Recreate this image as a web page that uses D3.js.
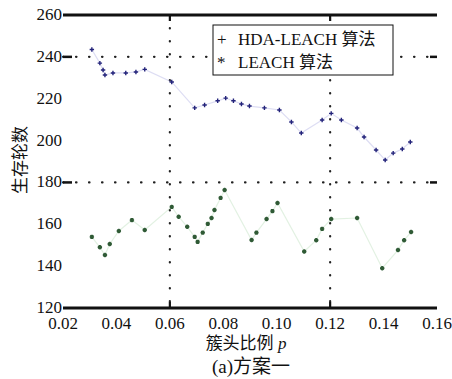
<!DOCTYPE html>
<html>
<head>
<meta charset="utf-8">
<script src="https://cdn.jsdelivr.net/npm/d3@7"></script>
<style>
  body { margin: 0; background: #fff; }
  svg { display: block; }
  text { font-family: "Liberation Serif", "Noto Sans CJK SC", serif; fill: #111; }
</style>
</head>
<body>
<script>
const width = 452,
    height = 379;

// HDA-LEACH (blue, upper curve)
const hdaP = [0.0308, 0.0338, 0.035, 0.0357, 0.0387, 0.0435, 0.0473, 0.0506, 0.0607, 0.0693, 0.073, 0.0779, 0.0809, 0.0838, 0.0868, 0.0898, 0.0954, 0.101, 0.1055, 0.1092, 0.117, 0.1204, 0.1242, 0.1301, 0.1327, 0.1372, 0.1406, 0.1436, 0.147, 0.15];
const hdaV = [243.5, 237, 233.7, 231.3, 232.3, 232.3, 232.8, 234, 228, 215.6, 217, 219, 220.3, 219, 217.5, 216.5, 215.6, 214.6, 208.9, 203.6, 209.8, 213, 209.8, 206, 201.7, 195.5, 190.7, 194, 196, 199.3];

// LEACH (green, lower curve)
const leachP = [0.0308, 0.0338, 0.0357, 0.0375, 0.0409, 0.0458, 0.0506, 0.0607, 0.0633, 0.0665, 0.0693, 0.0704, 0.0723, 0.0742, 0.0756, 0.0767, 0.079, 0.0805, 0.0906, 0.0924, 0.0962, 0.0984, 0.1003, 0.1103, 0.1148, 0.117, 0.1204, 0.1301, 0.1395, 0.1454, 0.1477, 0.1503];
const leachV = [154, 149, 145.3, 150.6, 156.8, 162, 157.3, 168.3, 163.6, 158.8, 154, 151.6, 156, 160.2, 163, 166.8, 172.6, 176.4, 152.5, 156, 162.5, 166.3, 170.2, 147, 152.4, 157.8, 162.5, 163, 139, 147.7, 152.4, 156.3];

const xTicks = [0.02, 0.04, 0.06, 0.08, 0.10, 0.12, 0.14, 0.16];
const yTicks = [120, 140, 160, 180, 200, 220, 240, 260];
const xGrid = [0.06, 0.12];
const yGrid = [180, 240];
const legendMarks = ["+", "*"];
const legendLabels = ["HDA-LEACH 算法", "LEACH 算法"];

const margin = {left: 63, right: 15, top: 15, bottom: 71};

const svg = d3.select("body").append("svg")
    .attr("width", width)
    .attr("height", height);

const x = d3.scaleLinear().domain([0.02, 0.16]).range([margin.left, width - margin.right]);
const y = d3.scaleLinear().domain([120, 260]).range([height - margin.bottom, margin.top]);

// dotted grid lines
const grid = svg.append("g");
grid.selectAll(".gx").data(xGrid).enter().append("line")
    .attr("x1", d => x(d)).attr("x2", d => x(d))
    .attr("y1", y(260)).attr("y2", y(120))
    .style("stroke", "#222").style("stroke-width", 2.2)
    .style("stroke-linecap", "round")
    .style("stroke-dasharray", "0.5,12.5");
grid.selectAll(".gy").data(yGrid).enter().append("line")
    .attr("x1", x(0.02)).attr("x2", x(0.16))
    .attr("y1", d => y(d)).attr("y2", d => y(d))
    .style("stroke", "#222").style("stroke-width", 2.2)
    .style("stroke-linecap", "round")
    .style("stroke-dasharray", "0.5,12.5");

// thick tick stubs at the ends of the grid lines
yGrid.forEach(function(v) {
  [[x(0.02), x(0.02) + 9], [x(0.16) - 7, x(0.16)]].forEach(function(s) {
    grid.append("line")
        .attr("x1", s[0]).attr("x2", s[1])
        .attr("y1", y(v)).attr("y2", y(v))
        .style("stroke", "#111").style("stroke-width", 2.5);
  });
});
xGrid.forEach(function(v) {
  [[y(260), y(260) + 6], [y(120) - 6, y(120)]].forEach(function(s) {
    grid.append("line")
        .attr("x1", x(v)).attr("x2", x(v))
        .attr("y1", s[0]).attr("y2", s[1])
        .style("stroke", "#111").style("stroke-width", 2.2);
  });
});

// top and bottom frame lines
[260, 120].forEach(function(v) {
  svg.append("line")
      .attr("x1", x(0.02)).attr("x2", x(0.16))
      .attr("y1", y(v)).attr("y2", y(v))
      .style("stroke", "#111").style("stroke-width", 3);
});

// series
function drawSeries(ps, vs, lineColor, markColor, marker) {
  const pts = ps.map((p, i) => [p, vs[i]]);
  const line = d3.line().x(d => x(d[0])).y(d => y(d[1]));
  svg.append("path")
      .attr("d", line(pts))
      .style("fill", "none")
      .style("stroke", lineColor)
      .style("stroke-width", 1.2)
      .style("opacity", 0.3);
  const g = svg.append("g");
  pts.forEach(function(d) {
    const cx = x(d[0]), cy = y(d[1]), r = 2.2;
    let path = "M" + (cx - r) + "," + cy + "H" + (cx + r) + "M" + cx + "," + (cy - r) + "V" + (cy + r);
    if (marker == "star") {
      path += "M" + (cx - r * 0.7) + "," + (cy - r * 0.7) + "L" + (cx + r * 0.7) + "," + (cy + r * 0.7)
            + "M" + (cx - r * 0.7) + "," + (cy + r * 0.7) + "L" + (cx + r * 0.7) + "," + (cy - r * 0.7);
    }
    g.append("path")
        .attr("d", path)
        .style("stroke", markColor)
        .style("stroke-width", 1.4)
        .style("fill", "none");
  });
}
drawSeries(hdaP, hdaV, "#8f8fd8", "#23237a", "plus");
drawSeries(leachP, leachV, "#9fd09f", "#2f5a35", "star");

// tick labels
svg.append("g").selectAll("text").data(xTicks).enter().append("text")
    .attr("x", d => x(d))
    .attr("y", y(120) + 21)
    .attr("text-anchor", "middle")
    .style("font-size", "17px")
    .text(d => d.toFixed(2));
svg.append("g").selectAll("text").data(yTicks).enter().append("text")
    .attr("x", x(0.02) - 1)
    .attr("y", d => y(d) + 5)
    .attr("text-anchor", "end")
    .style("font-size", "17px")
    .text(d => d);

// axis titles
const xt = svg.append("text")
    .attr("x", 246)
    .attr("y", 349)
    .attr("text-anchor", "middle")
    .style("font-size", "17px");
xt.append("tspan").text("簇头比例 ");
xt.append("tspan").style("font-style", "italic").text("p");

svg.append("text")
    .attr("transform", "translate(26,160) rotate(-90)")
    .attr("text-anchor", "middle")
    .style("font-size", "17px")
    .text("生存轮数");

svg.append("text")
    .attr("x", 251)
    .attr("y", 373)
    .attr("text-anchor", "middle")
    .style("font-size", "19px")
    .text("(a)方案一");

// legend
const legend = svg.append("g").attr("transform", "translate(213, 25)");
legend.append("rect")
    .attr("width", 180).attr("height", 50)
    .style("fill", "#fff").style("stroke", "#111").style("stroke-width", 1);
legend.selectAll(".mk").data(legendMarks).enter().append("text")
    .attr("x", 4)
    .attr("y", (d, i) => 20 + i * 23)
    .style("font-size", "17px")
    .text(d => d);
legend.selectAll(".lb").data(legendLabels).enter().append("text")
    .attr("x", 25)
    .attr("y", (d, i) => 20 + i * 23)
    .style("font-size", "17px")
    .text(d => d);
</script>
</body>
</html>
